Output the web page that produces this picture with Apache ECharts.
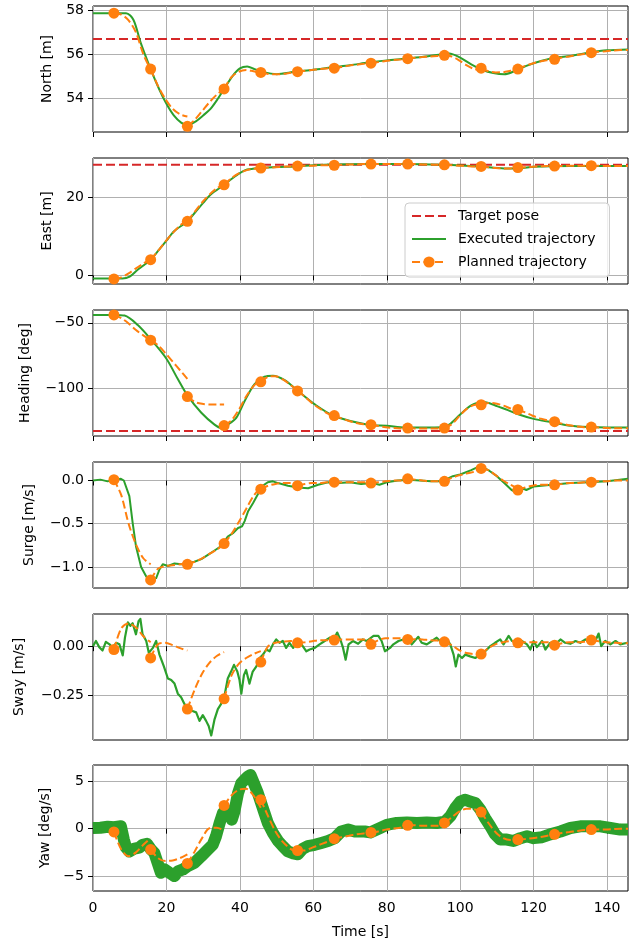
<!DOCTYPE html>
<html>
<head>
<meta charset="utf-8">
<script src="https://cdn.jsdelivr.net/npm/echarts@6/dist/echarts.min.js"></script>
<style>
  html, body { margin: 0; padding: 0; background: #fff; }
  #chart { width: 639px; height: 942px; }
</style>
</head>
<body>
<div id="chart"></div>
<script>
// shared time axis
const timeMin = 0
const timeMax = 145.7
const timeTicks = [0, 20, 40, 60, 80, 100, 120, 140]

// planned trajectories are re-planned every 10 s; each segment sampled at these offsets
const segStart = [5.7, 15.7, 25.7, 35.7, 45.7, 55.7, 65.7, 75.7, 85.7, 95.7, 105.7, 115.7, 125.7, 135.7]
const segOffset = [0, 2, 4, 6, 8, 10]

// North [m]
const northTarget = 56.7
const northTicks = [54, 56, 58]
const northExecT = [0, 9, 11, 13, 15.7, 18, 20, 22, 24, 25.7, 28, 30, 32, 34, 35.7, 38, 40, 42, 44, 46,
  50, 55, 60, 65, 70, 75, 80, 85, 90, 95, 97, 100, 103, 106, 109, 112, 115, 118, 122, 126, 130, 135, 140, 145.7]
const northExecV = [57.88, 57.88, 57.58, 56.52, 55.32, 54.41, 53.73, 53.2, 52.87, 52.75, 52.93, 53.2, 53.5, 53.96, 54.41, 55.0, 55.35, 55.44, 55.32, 55.2,
  55.09, 55.2, 55.29, 55.4, 55.5, 55.62, 55.72, 55.8, 55.89, 56.0, 56.04, 55.85, 55.54, 55.29, 55.14, 55.08, 55.24, 55.47, 55.69, 55.85, 55.92, 56.07, 56.18, 56.22]
const northPlan = [
  [57.88, 57.82, 57.55, 57.0, 56.0, 55.3],
  [55.32, 54.55, 53.95, 53.5, 53.25, 53.15],
  [52.7, 53.0, 53.4, 53.8, 54.15, 54.4],
  [54.41, 54.95, 55.2, 55.28, 55.22, 55.15],
  [55.17, 55.1, 55.08, 55.1, 55.15, 55.2],
  [55.2, 55.25, 55.28, 55.32, 55.35, 55.38],
  [55.36, 55.42, 55.48, 55.52, 55.56, 55.6],
  [55.59, 55.64, 55.69, 55.73, 55.76, 55.79],
  [55.8, 55.84, 55.87, 55.9, 55.92, 55.94],
  [55.95, 55.9, 55.72, 55.5, 55.33, 55.28],
  [55.36, 55.22, 55.17, 55.18, 55.24, 55.3],
  [55.32, 55.47, 55.58, 55.67, 55.73, 55.78],
  [55.77, 55.85, 55.9, 55.96, 56.01, 56.05],
  [56.07, 56.11, 56.14, 56.17, 56.19, 56.2]
]

// East [m]
const eastTarget = 28.2
const eastTicks = [0, 20]
const eastExecT = [0, 8, 10, 12, 14, 15.7, 18, 20, 22, 25.7, 28, 30, 32, 35.7, 38, 40, 42, 45.7, 50, 55,
  60, 65, 75, 85, 95, 105, 112, 116, 120, 130, 145.7]
const eastExecV = [-0.8, -0.8, -0.3, 1.3, 2.7, 4.0, 6.55, 8.85, 11.2, 13.8, 16.3, 18.5, 20.6, 23.1, 24.8, 26.1, 27.0, 27.4, 27.65, 27.8,
  28.1, 28.3, 28.4, 28.4, 28.2, 27.8, 27.3, 27.3, 27.7, 27.9, 27.9]
const eastPlan = [
  [-0.9, -0.5, 0.5, 1.8, 3.0, 4.2],
  [4.0, 6.2, 8.6, 10.8, 12.7, 14.2],
  [13.8, 16.2, 18.6, 20.6, 22.2, 23.3],
  [23.1, 24.8, 26.0, 26.8, 27.2, 27.4],
  [27.4, 27.5, 27.6, 27.7, 27.8, 27.9],
  [27.9, 28.0, 28.0, 28.1, 28.1, 28.1],
  [28.1, 28.2, 28.3, 28.3, 28.4, 28.4],
  [28.4, 28.4, 28.4, 28.4, 28.4, 28.4],
  [28.4, 28.4, 28.3, 28.3, 28.2, 28.2],
  [28.2, 28.1, 28.0, 27.9, 27.8, 27.8],
  [27.8, 27.6, 27.4, 27.3, 27.3, 27.4],
  [27.5, 27.6, 27.7, 27.8, 27.9, 27.9],
  [27.9, 27.9, 28.0, 28.0, 28.0, 28.0],
  [28.0, 28.0, 27.9, 27.9, 27.9, 27.9]
]

// Heading [deg]
const headingTarget = -132.1
const headingTicks = [-100, -50]
const headingExecT = [0, 5.7, 8.6, 12.2, 15.8, 20, 23.1, 25.8, 29.5, 33.1, 34.9, 36.7, 39, 41.3, 44, 46.7, 49, 52.2, 55.6, 60.4,
  65.8, 74.9, 80, 85, 90, 95, 97, 100, 103, 106, 108, 110, 113, 116, 120, 125, 130, 135, 140, 145.7]
const headingExecV = [-44, -44, -44.5, -51.7, -62.7, -77.3, -92.7, -105.5, -118.3, -127.3, -129.8, -127.3, -122.2, -109.4, -96.5, -90.9, -90.1, -93.5, -101.2, -111.9,
  -120.9, -127.3, -128.1, -129.4, -129.4, -129.2, -127.3, -119.6, -112.7, -110.1, -111, -113.2, -116.3, -119.6, -122.9, -125.5, -128.1, -129.1, -129.4, -129.4]
const headingPlan = [
  [-44, -46.5, -50.5, -55.5, -59.5, -63],
  [-63.2, -67, -73, -79.5, -86, -92.5],
  [-106, -110, -111.5, -112, -112, -112],
  [-128, -124, -116, -106, -98, -93],
  [-94.8, -91, -90.5, -93, -97, -101.5],
  [-101.7, -106, -111, -115, -118.5, -121],
  [-120.4, -122.5, -124.5, -126, -127, -127.6],
  [-127.3, -128.3, -129.2, -129.8, -130.2, -130.3],
  [-129.9, -130.2, -130.3, -130.3, -130.2, -130],
  [-129.9, -127, -121, -115.5, -112.5, -111.5],
  [-112.2, -110.8, -111.2, -112.8, -115, -117],
  [-115.8, -118, -120.5, -122.5, -124, -125.5],
  [-125, -126.5, -127.8, -128.7, -129.3, -129.7],
  [-129.1, -129.5, -129.8, -130, -130, -130]
]

// Surge [m/s]
const surgeTicks = [-1.0, -0.5, 0.0]
const surgeExecT = [0, 2, 4, 6, 7.6, 8.4, 9.9, 10.8, 11.7, 13.1, 14.5, 15.6, 17.2, 18.1, 19, 20.4, 22.2, 24, 25.8, 27.6,
  29.5, 31.3, 33.1, 34.9, 36.7, 38.1, 39.5, 40.6, 41.3, 42.2, 43.6, 44.9, 46.3, 47.6, 49, 50.4, 53.1, 55.8, 58.6, 61.3,
  64, 67, 70, 73, 76, 78, 80, 83, 86, 89, 92, 95, 98, 100, 103, 105.5, 108, 110, 112, 114,
  116, 117, 118, 120, 125, 130, 135, 140, 145.7]
const surgeExecV = [0.0, 0.01, -0.01, 0.01, 0.02, 0.0, -0.18, -0.49, -0.76, -1.0, -1.11, -1.15, -1.13, -1.03, -0.97, -0.99, -0.96, -0.97, -0.96, -0.94,
  -0.91, -0.86, -0.81, -0.76, -0.65, -0.61, -0.55, -0.53, -0.47, -0.36, -0.26, -0.16, -0.06, -0.02, -0.01, -0.03, -0.06, -0.08, -0.09, -0.05,
  -0.02, -0.03, -0.02, -0.04, -0.03, -0.05, -0.02, 0.0, 0.01, 0.0, -0.01, -0.01, 0.05, 0.07, 0.12, 0.17, 0.11, 0.05, -0.03, -0.11,
  -0.15, -0.09, -0.11, -0.07, -0.05, -0.03, -0.02, -0.01, 0.02]
const surgePlan = [
  [0.01, -0.17, -0.5, -0.74, -0.9, -0.97],
  [-1.15, -1.02, -0.99, -0.98, -0.97, -0.96],
  [-0.97, -0.94, -0.9, -0.85, -0.8, -0.74],
  [-0.73, -0.62, -0.48, -0.33, -0.18, -0.08],
  [-0.1, -0.06, -0.04, -0.03, -0.03, -0.03],
  [-0.06, -0.04, -0.03, -0.03, -0.02, -0.02],
  [-0.02, -0.02, -0.02, -0.02, -0.02, -0.02],
  [-0.03, -0.02, -0.01, 0.0, 0.0, 0.0],
  [0.02, 0.01, 0.0, -0.01, -0.01, -0.01],
  [-0.01, 0.03, 0.06, 0.08, 0.1, 0.12],
  [0.14, 0.12, 0.06, 0.0, -0.05, -0.09],
  [-0.11, -0.08, -0.06, -0.05, -0.05, -0.05],
  [-0.05, -0.04, -0.03, -0.03, -0.02, -0.02],
  [-0.02, -0.01, -0.01, 0.0, 0.0, 0.0]
]

// Sway [m/s]
const swayTicks = [-0.25, 0.0]
const swayExecT = [
  0, 0.8, 1.7, 2.6, 3.5, 4.5, 5.4, 6.3, 7.2, 8.1,
  8.7, 9.5, 10.2, 10.8, 11.7, 12.4, 12.9, 13.5, 14.5, 15.2,
  16.3, 17.2, 18.1, 19.3, 20.4, 21.3, 22.2, 23.1, 24, 24.9,
  25.8, 26.9, 28.1, 29, 29.9, 30.8, 31.5, 32.2, 33.1, 34,
  34.9, 35.8, 36.7, 37.6, 38.4, 39.3, 39.9, 40.4, 41.1, 41.7,
  42.6, 43.5, 44.5, 45.4, 46.3, 47.2, 48.1, 49, 49.9, 50.8,
  51.7, 52.6, 53.5, 54.5, 55.4, 56.7, 58.1, 59, 60.4, 61.7,
  63.1, 64.5, 65.4, 66.5, 67.5, 68.1, 68.8, 69.6, 70.8, 72.2,
  73.5, 74.5, 76.4, 77.7, 78.6, 79.5, 80.9, 81.8, 83.2, 84.5,
  85.9, 86.8, 87.7, 88.6, 89.5, 90.9, 92.3, 93.6, 95, 96.4,
  97.3, 98.2, 98.8, 99.5, 100.5, 101.4, 102.7, 104.1, 105.5, 106.8,
  108.2, 109.5, 110.9, 111.8, 113.2, 114.1, 115.5, 116.8, 118.2, 119.1,
  120, 120.9, 122.3, 123.2, 124.5, 125.9, 127.3, 128.6, 130, 131.4,
  132.7, 134.1, 135.5, 136.8, 137.7, 138.4, 139.5, 140.9, 142.3, 143.6,
  145.5]
const swayExecV = [
  0, 0.026, -0.005, -0.022, 0.022, 0.009, -0.009, 0.017, 0.009, -0.047,
  0.043, 0.121, 0.103, 0.116, 0.06, 0.126, 0.138, 0.06, 0.026, -0.034,
  -0.009, 0.026, -0.043, -0.103, -0.164, -0.172, -0.19, -0.241, -0.259, -0.293,
  -0.31, -0.328, -0.336, -0.379, -0.35, -0.379, -0.405, -0.453, -0.371, -0.319,
  -0.293, -0.253, -0.164, -0.129, -0.095, -0.129, -0.172, -0.241, -0.147, -0.121,
  -0.19, -0.129, -0.103, -0.06, -0.043, -0.017, -0.026, 0.009, 0.034, 0.017,
  0.026, -0.009, 0.017, -0.009, 0.026, 0.012, -0.026, -0.017, -0.009, 0.009,
  0.026, 0.043, 0.026, 0.069, 0.026, -0.009, -0.069, 0.009, 0.026, 0.012,
  0.034, 0.026, 0.052, 0.052, 0.026, -0.026, -0.009, 0.009, 0.026, 0.034,
  0.034, 0.009, 0.029, 0.047, 0.017, 0.009, 0.026, 0.043, 0.017, 0.034,
  0.009, -0.043, -0.103, -0.043, -0.06, -0.043, -0.052, -0.06, -0.043, -0.026,
  0, 0.017, 0.034, 0.009, 0.052, 0.026, 0.017, 0.026, 0.009, -0.017,
  0.026, -0.005, 0.026, -0.017, 0.017, 0.009, 0.034, 0.017, 0.012, 0.026,
  0.017, 0.034, 0.017, 0.026, 0.064, 0, 0.026, 0.009, 0.026, 0.009,
  0.017]
const swayPlan = [
  [-0.017, 0.09, 0.115, 0.095, 0.05, 0.02],
  [-0.06, 0.01, 0.017, 0.005, -0.01, -0.022],
  [-0.319, -0.22, -0.14, -0.085, -0.05, -0.03],
  [-0.267, -0.15, -0.09, -0.06, -0.04, -0.025],
  [-0.081, 0.0, 0.017, 0.022, 0.026, 0.026],
  [0.017, 0.02, 0.025, 0.03, 0.03, 0.03],
  [0.031, 0.034, 0.034, 0.034, 0.034, 0.034],
  [0.009, 0.03, 0.04, 0.04, 0.04, 0.04],
  [0.034, 0.035, 0.034, 0.03, 0.028, 0.025],
  [0.022, 0.005, -0.02, -0.035, -0.04, -0.045],
  [-0.04, -0.01, 0.01, 0.02, 0.025, 0.025],
  [0.017, 0.02, 0.02, 0.02, 0.02, 0.02],
  [0.005, 0.015, 0.02, 0.02, 0.022, 0.025],
  [0.031, 0.025, 0.02, 0.018, 0.015, 0.015]
]

// Yaw [deg/s]
const yawTicks = [-5, 0, 5]
const yawExecT = [
  0, 2, 4, 5.7, 7.6, 8.4, 9, 9.9, 11.3, 12.6,
  13.5, 14.7, 15.8, 16.7, 17.6, 18.5, 19.5, 20.8, 22.2, 23.1,
  24.5, 25.8, 27.6, 29.5, 31.3, 32.6, 33.5, 34.5, 35.4, 36.3,
  37.2, 37.8, 38.5, 39.5, 40.4, 41.3, 42.2, 42.9, 43.8, 44.9,
  45.8, 46.7, 47.6, 49, 50.4, 51.7, 53.1, 54.5, 55.8, 57.2,
  58.5, 60.4, 62.2, 64, 65.8, 67.6, 69.5, 71.3, 74, 75.5,
  78.2, 80, 82.7, 85.5, 88.2, 90.9, 93.6, 95.9, 97.3, 98.6,
  100, 101.4, 102.7, 104.1, 105.5, 106.8, 108.2, 109.5, 110.9, 112.7,
  114.5, 116.4, 118.2, 120, 122.3, 124.5, 127.3, 130, 132.7, 135.5,
  138.2, 140.9, 143.6, 145.7]
const yawExecV = [
  0.07, 0.1, 0.2, 0.15, 0.25, -1.15, -2.0, -2.4, -2.1, -2.0,
  -1.7, -1.6, -2.2, -2.55, -3.6, -4.65, -4.3, -4.65, -5.0, -4.5,
  -4.3, -3.95, -3.6, -2.9, -2.2, -1.7, -0.8, 0.6, 1.65, 2.0,
  1.65, 0.95, 1.8, 3.75, 4.8, 5.15, 5.5, 5.65, 4.8, 3.75,
  2.7, 1.65, 0.6, -0.45, -1.3, -1.85, -2.4, -2.6, -2.7, -2.1,
  -1.85, -1.7, -1.5, -1.3, -1.0, -0.3, -0.1, -0.3, -0.3, -0.4,
  0.07, 0.4, 0.6, 0.65, 0.6, 0.65, 0.6, 0.75, 1.3, 2.15,
  2.85, 3.05, 2.85, 2.7, 2.0, 1.1, 0.25, -0.6, -1.15, -1.15,
  -1.3, -1.0, -0.8, -1.0, -0.9, -0.6, -0.3, 0.07, 0.25, 0.25,
  0.25, 0.07, -0.1, -0.1]
const yawPlan = [
  [-0.35, -2.2, -2.9, -2.5, -1.7, -1.0],
  [-2.2, -3.1, -3.4, -3.35, -3.1, -2.7],
  [-3.67, -2.4, -1.0, 0.05, 0.1, -0.2],
  [2.45, 3.5, 4.1, 4.2, 3.5, 2.2],
  [3.05, 1.3, -0.3, -1.4, -2.1, -2.5],
  [-2.3, -2.3, -2.0, -1.7, -1.4, -1.15],
  [-1.05, -0.9, -0.75, -0.6, -0.5, -0.45],
  [-0.4, -0.3, -0.1, 0.0, 0.1, 0.2],
  [0.35, 0.35, 0.3, 0.3, 0.3, 0.4],
  [0.6, 1.2, 1.8, 2.1, 2.05, 1.8],
  [1.75, 0.6, -0.4, -1.0, -1.2, -1.2],
  [-1.15, -1.1, -1.0, -0.9, -0.75, -0.6],
  [-0.6, -0.45, -0.35, -0.25, -0.15, -0.1],
  [-0.1, -0.1, -0.1, -0.05, 0.0, 0.0]
]

const RED = '#d62728'
const GREEN = '#2ca02c'
const ORANGE = '#ff7f0e'
const FONT = 'DejaVu Sans'
const FS = 14

const panels = [
  { label: 'North [m]', t: northExecT, v: northExecV, plan: northPlan, target: northTarget, ticks: northTicks, min: 52.44, max: 58.21, dec: 0, gap: 39, smooth: 0.3, width: 2 },
  { label: 'East [m]', t: eastExecT, v: eastExecV, plan: eastPlan, target: eastTarget, ticks: eastTicks, min: -2.2, max: 29.95, dec: 0, gap: 39, smooth: 0.3, width: 2 },
  { label: 'Heading [deg]', t: headingExecT, v: headingExecV, plan: headingPlan, target: headingTarget, ticks: headingTicks, min: -135.9, max: -40.3, dec: 0, gap: 61, smooth: 0.3, width: 2 },
  { label: 'Surge [m/s]', t: surgeExecT, v: surgeExecV, plan: surgePlan, target: null, ticks: surgeTicks, min: -1.244, max: 0.214, dec: 1, gap: 57, smooth: false, width: 2 },
  { label: 'Sway [m/s]', t: swayExecT, v: swayExecV, plan: swayPlan, target: null, ticks: swayTicks, min: -0.476, max: 0.163, dec: 2, gap: 67, smooth: false, width: 2.2 },
  { label: 'Yaw [deg/s]', t: yawExecT, v: yawExecV, plan: yawPlan, target: null, ticks: yawTicks, min: -6.57, max: 6.71, dec: 0, gap: 41, smooth: false, width: 12 }
]

const gridTops = [6, 158, 310, 462, 614, 765]
const gridHeight = 126

const fmtTick = (dec) => (val) => (val < 0 ? '\u2212' : '') + Math.abs(val).toFixed(dec)

const zip = (a, b) => a.map((x, i) => [x, b[i]])

const buildPlan = (plan) => {
  const out = []
  plan.forEach((seg, i) => {
    seg.forEach((val, j) => {
      out.push({ value: [segStart[i] + segOffset[j], val], symbol: j === 0 ? 'circle' : 'none' })
    })
    out.push({ value: ['-', '-'] })
  })
  return out
}

const grid = []
const xAxis = []
const yAxis = []
const series = []

panels.forEach((p, i) => {
  const last = i === panels.length - 1
  grid.push({
    left: 93, right: 11, top: gridTops[i], height: gridHeight,
    show: true, borderColor: '#000', borderWidth: 1, backgroundColor: 'transparent'
  })
  xAxis.push({
    type: 'value', gridIndex: i, min: timeMin, max: timeMax,
    name: last ? 'Time [s]' : '',
    nameLocation: 'middle', nameGap: 34,
    nameTextStyle: { fontFamily: FONT, fontSize: FS, color: '#000' },
    axisLine: { show: false },
    axisTick: { show: true, customValues: timeTicks, length: 5, lineStyle: { color: '#000' } },
    axisLabel: { show: last, customValues: timeTicks, margin: 10, fontFamily: FONT, fontSize: FS, color: '#000' },
    splitLine: { show: true, lineStyle: { color: '#b0b0b0', width: 1 } }
  })
  yAxis.push({
    type: 'value', gridIndex: i, min: p.min, max: p.max,
    name: p.label, nameLocation: 'middle', nameGap: p.gap, nameRotate: 90,
    nameTextStyle: { fontFamily: FONT, fontSize: FS, color: '#000' },
    axisLine: { show: false },
    axisTick: { show: true, customValues: p.ticks, length: 5, lineStyle: { color: '#000' } },
    axisLabel: { customValues: p.ticks, margin: 9, fontFamily: FONT, fontSize: FS, color: '#000', formatter: fmtTick(p.dec) },
    splitLine: { show: true, lineStyle: { color: '#b0b0b0', width: 1 } }
  })
  if (p.target !== null) {
    series.push({
      name: 'Target pose', type: 'line', xAxisIndex: i, yAxisIndex: i,
      data: [[timeMin, p.target], [timeMax, p.target]],
      symbol: 'none', lineStyle: { color: RED, width: 2, type: [9, 4] }, itemStyle: { color: RED },
      z: 2
    })
  }
  series.push({
    name: 'Executed trajectory', type: 'line', xAxisIndex: i, yAxisIndex: i,
    data: zip(p.t, p.v), smooth: p.smooth,
    symbol: 'none', lineStyle: { color: GREEN, width: p.width, join: 'round' }, itemStyle: { color: GREEN },
    z: 3
  })
  series.push({
    name: 'Planned trajectory', type: 'line', xAxisIndex: i, yAxisIndex: i,
    data: buildPlan(p.plan), smooth: 0.3, connectNulls: false,
    symbol: 'circle', symbolSize: 11, showSymbol: true, showAllSymbol: true,
    lineStyle: { color: ORANGE, width: 2, type: [8, 3.5] }, itemStyle: { color: ORANGE },
    z: 4
  })
})

const noMarker = { opacity: 0, color: 'rgba(0,0,0,0)', borderWidth: 0 }

const chart = echarts.init(document.getElementById('chart'), null, { renderer: 'canvas' })
chart.setOption({
  animation: false,
  backgroundColor: '#fff',
  textStyle: { fontFamily: FONT },
  legend: {
    data: [
      { name: 'Target pose', itemStyle: noMarker },
      { name: 'Executed trajectory', itemStyle: noMarker },
      { name: 'Planned trajectory' }
    ],
    orient: 'vertical', left: 405, top: 203,
    itemWidth: 34, itemHeight: 14, itemGap: 9,
    padding: [6, 14, 8, 6],
    backgroundColor: 'rgba(255,255,255,0.8)', borderColor: '#cccccc', borderWidth: 1, borderRadius: 4,
    textStyle: { fontFamily: FONT, fontSize: FS, color: '#000', width: 150, padding: [0, 0, 0, 7] }
  },
  grid, xAxis, yAxis, series
})
</script>
</body>
</html>
